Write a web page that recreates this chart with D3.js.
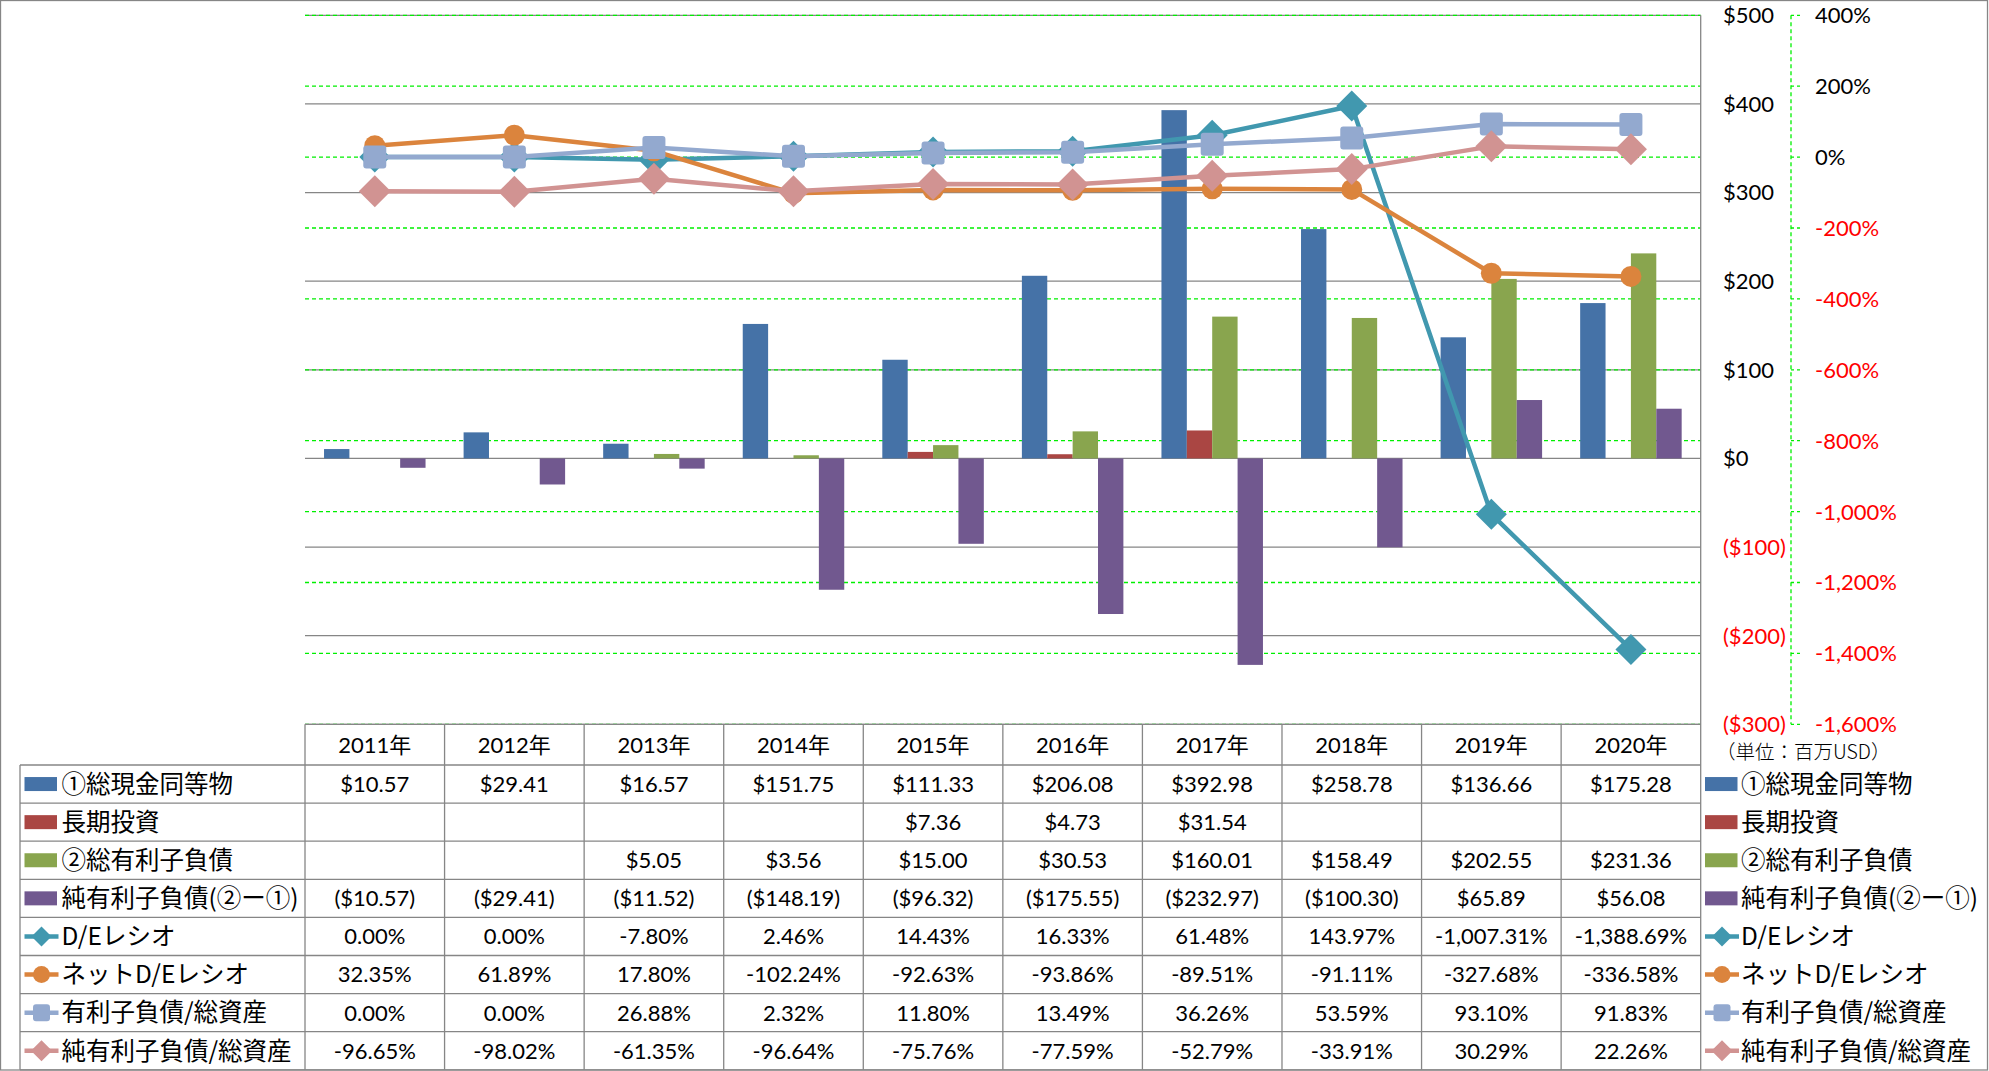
<!DOCTYPE html>
<html><head><meta charset="utf-8">
<script src="https://cdn.jsdelivr.net/npm/d3@7"></script>
<style>body{margin:0;background:#fff}svg{display:block}</style>
</head><body><svg id="c" width="1989" height="1071"></svg>
<script>
const years = ["2011年","2012年","2013年","2014年","2015年","2016年","2017年","2018年","2019年","2020年"];
const barNames = ["①総現金同等物","長期投資","②総有利子負債","純有利子負債(②ー①)"];
const lineNames = ["D/Eレシオ","ネットD/Eレシオ","有利子負債/総資産","純有利子負債/総資産"];
const cash = [10.57,29.41,16.57,151.75,111.33,206.08,392.98,258.78,136.66,175.28];
const ltInvest = [null,null,null,null,7.36,4.73,31.54,null,null,null];
const debt = [null,null,5.05,3.56,15.00,30.53,160.01,158.49,202.55,231.36];
const netDebt = [-10.57,-29.41,-11.52,-148.19,-96.32,-175.55,-232.97,-100.30,65.89,56.08];
const deRatio = [0.00,0.00,-7.80,2.46,14.43,16.33,61.48,143.97,-1007.31,-1388.69];
const netDeRatio = [32.35,61.89,17.80,-102.24,-92.63,-93.86,-89.51,-91.11,-327.68,-336.58];
const debtAssets = [0.00,0.00,26.88,2.32,11.80,13.49,36.26,53.59,93.10,91.83];
const netDebtAssets = [-96.65,-98.02,-61.35,-96.64,-75.76,-77.59,-52.79,-33.91,30.29,22.26];
const leftTicks = [-300,-200,-100,0,100,200,300,400,500];
const rightTicks = [-1600,-1400,-1200,-1000,-800,-600,-400,-200,0,200,400];
const unitLabel = "（単位：百万USD）";

const barSeries = [cash, ltInvest, debt, netDebt];
const lineSeries = [deRatio, netDeRatio, debtAssets, netDebtAssets];
const barColors = ["#4572A7","#AA4643","#89A54E","#71588F"];
const lineColors = ["#4198AF","#DB843D","#93A9CF","#D19392"];
const markerTypes = ["diamond","circle","square","diamond"];

const svg = d3.select("#c");
const NUM = "Lato, 'Noto Sans CJK JP', sans-serif";
const JP = "'Noto Sans CJK JP', sans-serif";
const GRID = "#868686";
const GREEN = "#00F000";
const hy = s => s.replace(/\u2212/g, "-");

const X0 = 305, X1 = 1700.7, YT = 15.3, YB = 724.3;
const x = d3.scaleBand().domain(years).range([X0, X1]).padding(0);
const xs = d3.scaleBand().domain(d3.range(4)).range([0, x.bandwidth()]).paddingInner(0).paddingOuter(0.75);
const yL = d3.scaleLinear().domain([-300,500]).range([YB, YT]);
const yR = d3.scaleLinear().domain([-1600,400]).range([YB, YT]);

// outer border
svg.append("rect").attr("x",0.5).attr("y",0.5).attr("width",1987).attr("height",1069.5)
  .attr("fill","none").attr("stroke",GRID).attr("stroke-width",1.3);

// gridlines
svg.append("g").selectAll("line").data(leftTicks).join("line")
  .attr("x1",X0).attr("x2",X1).attr("y1",d=>yL(d)).attr("y2",d=>yL(d))
  .attr("stroke",GRID).attr("stroke-width",1.3);
svg.append("g").selectAll("line").data(rightTicks).join("line")
  .attr("x1",X0).attr("x2",X1).attr("y1",d=>yR(d)).attr("y2",d=>yR(d))
  .attr("stroke",GREEN).attr("stroke-width",1.3).attr("stroke-dasharray","4,3");

// bars
barSeries.forEach((s,si)=>{
  svg.append("g").selectAll("rect").data(s.map((v,i)=>({v,i})).filter(d=>d.v!==null)).join("rect")
    .attr("x",d=>x(years[d.i])+xs(si)).attr("width",xs.bandwidth())
    .attr("y",d=>Math.min(yL(d.v),yL(0))).attr("height",d=>Math.abs(yL(d.v)-yL(0)))
    .attr("fill",barColors[si]);
});

function markerPath(type, r){
  if(type==="diamond") return `M0,${-r}L${r},0L0,${r}L${-r},0Z`;
  if(type==="circle") return d3.arc()({innerRadius:0,outerRadius:r,startAngle:0,endAngle:2*Math.PI});
  const h=r; return `M${-h+3},${-h}H${h-3}Q${h},${-h} ${h},${-h+3}V${h-3}Q${h},${h} ${h-3},${h}H${-h+3}Q${-h},${h} ${-h},${h-3}V${-h+3}Q${-h},${-h} ${-h+3},${-h}Z`;
}
const markerR = [15.5,10.5,11.5,16];

// lines
const cx = i => x(years[i]) + x.bandwidth()/2;
lineSeries.forEach((s,si)=>{
  const g = svg.append("g");
  g.append("path").datum(s).attr("fill","none").attr("stroke",lineColors[si]).attr("stroke-width",4.5)
    .attr("stroke-linejoin","round")
    .attr("d",d3.line().x((d,i)=>cx(i)).y(d=>yR(d)));
  g.selectAll("path.m").data(s).join("path").attr("class","m")
    .attr("transform",(d,i)=>`translate(${cx(i)},${yR(d)})`)
    .attr("d",markerPath(markerTypes[si],markerR[si]))
    .attr("fill",lineColors[si]);
});

// right plot border / table right line
svg.append("line").attr("x1",X1).attr("x2",X1).attr("y1",YT).attr("y2",1070).attr("stroke",GRID).attr("stroke-width",1.3);

// primary axis labels
svg.append("g").selectAll("text").data(leftTicks).join("text")
  .attr("x",1723).attr("y",d=>yL(d)).attr("dy","0.36em")
  .attr("font-family",NUM).attr("font-size",22)
  .attr("fill",d=>d<0?"#FF0000":"#000")
  .text(d=>d<0?`($${Math.abs(d)})`:`$${d}`);

// secondary axis
const AX = 1791;
svg.append("line").attr("x1",AX).attr("x2",AX).attr("y1",YT).attr("y2",YB)
  .attr("stroke",GREEN).attr("stroke-width",1.3).attr("stroke-dasharray","4,3");
svg.append("g").selectAll("line").data(rightTicks).join("line")
  .attr("x1",AX).attr("x2",AX+9).attr("y1",d=>yR(d)).attr("y2",d=>yR(d))
  .attr("stroke",GREEN).attr("stroke-width",1.3).attr("stroke-dasharray","3,3");
svg.append("g").selectAll("text").data(rightTicks).join("text")
  .attr("x",1815).attr("y",d=>yR(d)).attr("dy","0.36em")
  .attr("font-family",NUM).attr("font-size",22)
  .attr("fill",d=>d<0?"#FF0000":"#000")
  .text(d=>hy(d3.format(",")(d))+"%");

svg.append("text").attr("x",1716).attr("y",752).attr("dy","0.36em")
  .attr("font-family",JP).attr("font-size",19.5).attr("font-weight",300).attr("fill","#000")
  .text(unitLabel);

// data table
const RH = 38.1, R0 = 765;
const allNames = barNames.concat(lineNames);
const fmtMoney = v => v===null?"":(v<0?`($${Math.abs(v).toFixed(2)})`:`$${v.toFixed(2)}`);
const fmtPct = v => v===null?"":hy(d3.format(",.2f")(v))+"%";
const rows = barSeries.map(s=>s.map(fmtMoney)).concat(lineSeries.map(s=>s.map(fmtPct)));
const tg = svg.append("g").attr("stroke",GRID).attr("stroke-width",1.3);
tg.append("line").attr("x1",X0).attr("x2",X1).attr("y1",YB).attr("y2",YB);
for(let r=0;r<=8;r++){
  const yy = R0 + r*RH;
  tg.append("line").attr("x1",20).attr("x2",X1).attr("y1",yy).attr("y2",yy);
}
years.forEach((yr,i)=>{
  tg.append("line").attr("x1",x(yr)).attr("x2",x(yr)).attr("y1",YB).attr("y2",R0+8*RH);
});
tg.append("line").attr("x1",20).attr("x2",20).attr("y1",R0).attr("y2",R0+8*RH);

svg.append("g").selectAll("text").data(years).join("text")
  .attr("x",d=>x(d)+x.bandwidth()/2).attr("y",(YB+R0)/2).attr("dy","0.36em")
  .attr("text-anchor","middle").attr("font-family",NUM).attr("font-size",22).text(d=>d);

rows.forEach((row,r)=>{
  const yy = R0 + r*RH + RH/2;
  svg.append("g").selectAll("text").data(row).join("text")
    .attr("x",(d,i)=>x(years[i])+x.bandwidth()/2).attr("y",yy).attr("dy","0.36em")
    .attr("text-anchor","middle").attr("font-family",NUM).attr("font-size",22).text(d=>d);
  [[24.5,61.5],[1705,1741]].forEach(([kx,tx])=>{
    if(r<4){
      svg.append("rect").attr("x",kx).attr("y",yy-7).attr("width",32.5).attr("height",14).attr("fill",barColors[r]);
    } else {
      const li = r-4;
      svg.append("line").attr("x1",kx).attr("x2",kx+34).attr("y1",yy).attr("y2",yy)
        .attr("stroke",lineColors[li]).attr("stroke-width",4.5);
      svg.append("path").attr("transform",`translate(${kx+17},${yy})`)
        .attr("d",markerPath(markerTypes[li],[10,8.5,8.5,10.5][li])).attr("fill",lineColors[li]);
    }
    svg.append("text").attr("x",tx).attr("y",yy).attr("dy","0.36em")
      .attr("font-family",JP).attr("font-size",24.5).attr("fill","#000").text(allNames[r]);
  });
});
</script></body></html>
